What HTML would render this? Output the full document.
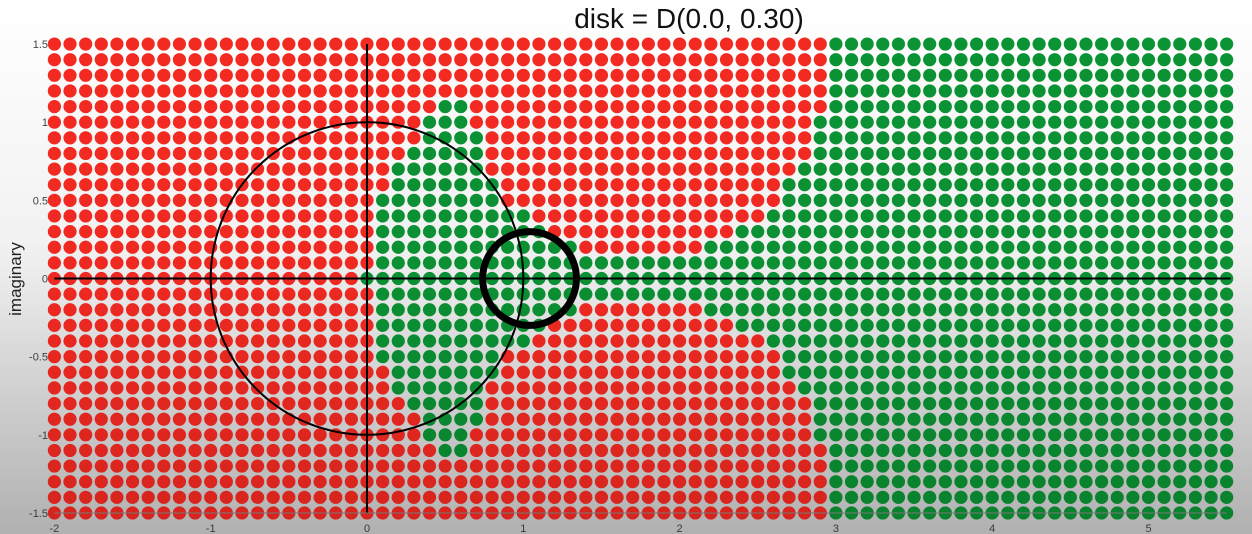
<!DOCTYPE html>
<html><head><meta charset="utf-8">
<style>
html,body{margin:0;padding:0;width:1252px;height:534px;overflow:hidden;background:#fff;font-family:"Liberation Sans",sans-serif;}
</style></head>
<body>
<svg id="chart" width="1252" height="534" viewBox="0 0 1252 534" xmlns="http://www.w3.org/2000/svg">
<defs>
<linearGradient id="bg" x1="0" y1="0" x2="0" y2="1">
<stop offset="0" stop-color="#ffffff"/><stop offset="0.45" stop-color="#f6f6f6"/><stop offset="1" stop-color="#cbcbcb"/>
</linearGradient>
<linearGradient id="shade" x1="0" y1="0" x2="0" y2="1">
<stop offset="0" stop-color="#000" stop-opacity="0"/><stop offset="0.5" stop-color="#000" stop-opacity="0.02"/><stop offset="1" stop-color="#000" stop-opacity="0.13"/>
</linearGradient>
</defs>
<rect x="0" y="0" width="1252" height="534" fill="url(#bg)"/>
<text x="689" y="28" font-size="28" text-anchor="middle" fill="#111">disk = D(0.0, 0.30)</text>
<text transform="translate(21,279) rotate(-90)" font-size="17" text-anchor="middle" fill="#222">imaginary</text>
<g id="dots"></g>
<g id="axes"></g>
<rect x="0" y="0" width="1252" height="534" fill="url(#shade)" pointer-events="none"/>
</svg>
<script>
// upper-half rows (y from 1.5 down to 0); lower half mirrors
const rowYs = [1.5,1.4,1.3,1.2,1.1,1.0,0.9,0.8,0.7,0.6,0.5,0.4,0.3,0.2,0.1,0.0];
const innerLo = [null,null,null,null,0.5,0.4,0.4,0.3,0.2,0.2,0.1,0.1,0.1,0.1,0.1,0.0];
const innerHi = [null,null,null,null,0.6,0.6,0.7,0.7,0.7,0.8,0.8,1.0,1.1,1.3,5.5,5.5];
const outerLo = [3.0,3.0,3.0,3.0,3.0,2.9,2.9,2.9,2.8,2.7,2.7,2.6,2.4,2.2,0.1,0.0];
const xTicks = [-2,-1,0,1,2,3,4,5];
const yTicks = [1.5,1,0.5,0,-0.5,-1,-1.5];
const xMin=-2, xMax=5.5, step=0.1;
const unitCircle = {cx:0, cy:0, r:1};
const diskCircle = {cx:1.04, cy:0, r:0.3};

const NS="http://www.w3.org/2000/svg";
const sx = v => 367 + v*156.3;
const sy = v => 278.5 - v*156.3;
function mk(tag, attrs, parent){const e=document.createElementNS(NS,tag);for(const k in attrs)e.setAttribute(k,attrs[k]);parent.appendChild(e);return e;}

const dots=document.getElementById('dots');
const nCols=Math.round((xMax-xMin)/step);
function isGreen(i,x){
  const eps=1e-6;
  if(innerLo[i]!==null && x>=innerLo[i]-eps && x<=innerHi[i]+eps) return true;
  if(x>=outerLo[i]-eps) return true;
  return false;
}
rowYs.forEach((yv,i)=>{
  const ys = yv===0 ? [0] : [yv,-yv];
  ys.forEach(y=>{
    for(let c=0;c<=nCols;c++){
      const x=+(xMin+c*step).toFixed(2);
      const g=isGreen(i,x);
      const d=mk('circle',{cx:sx(x),cy:sy(y),r:6.6,fill:g?'#0b9334':'#f42a22'},dots);
      
      
    }
  });
});

const ax=document.getElementById('axes');
let e;
e=mk('line',{x1:sx(xMin),x2:sx(xMax)+4,y1:sy(0),y2:sy(0),stroke:'#000','stroke-width':2},ax);


e=mk('line',{x1:sx(0),x2:sx(0),y1:sy(1.5),y2:sy(-1.5),stroke:'#000','stroke-width':2},ax);


e=mk('line',{x1:sx(xMin),x2:sx(xMax),y1:sy(-1.5),y2:sy(-1.5),stroke:'#888','stroke-width':1},ax);


e=mk('circle',{cx:sx(unitCircle.cx),cy:sy(unitCircle.cy),r:unitCircle.r*156.3,fill:'none',stroke:'#000','stroke-width':2},ax);


e=mk('circle',{cx:sx(diskCircle.cx),cy:sy(diskCircle.cy),r:diskCircle.r*156.3,fill:'none',stroke:'#000','stroke-width':7},ax);


xTicks.forEach(t=>{
  const tx=mk('text',{x:sx(t),y:532,'font-size':11,'text-anchor':'middle',fill:'#444'},ax);
  tx.textContent=String(t);
  
  
});
yTicks.forEach(t=>{
  const tx=mk('text',{x:48,y:sy(t)+4,'font-size':11,'text-anchor':'end',fill:'#444'},ax);
  tx.textContent=String(t);
  
  
});
</script>
</body></html>
